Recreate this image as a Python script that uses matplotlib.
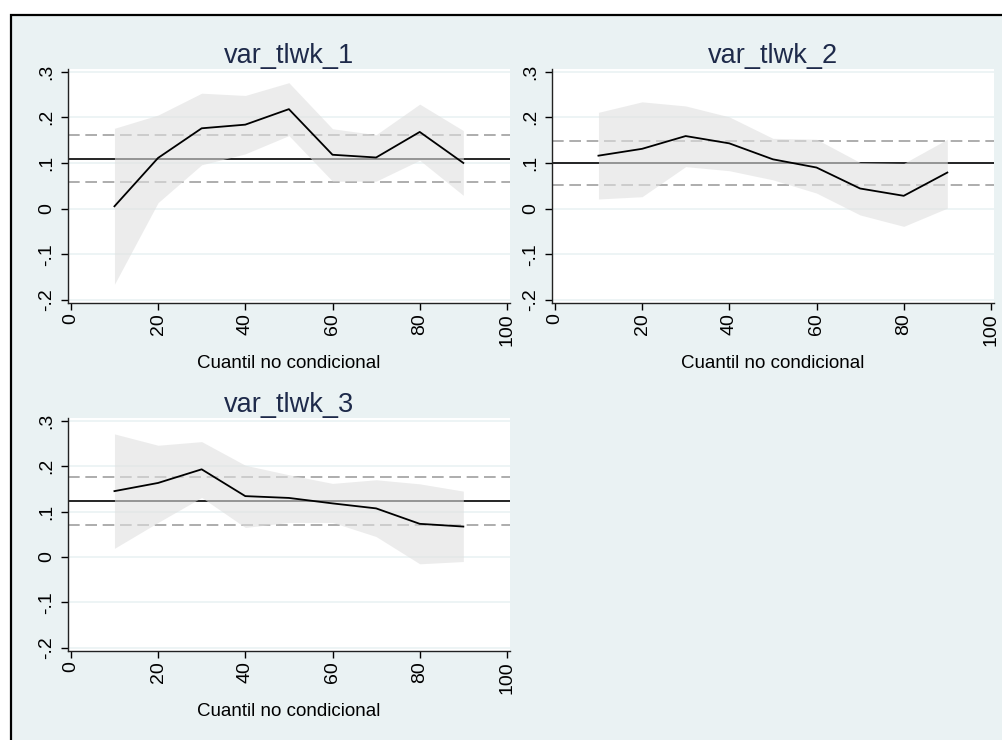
import numpy as np
import matplotlib
matplotlib.use("Agg")
import matplotlib.pyplot as plt
from matplotlib.patches import Rectangle

plt.rcParams['font.family'] = ['Liberation Sans', 'DejaVu Sans']

# cuantiles
quantiles = [10, 20, 30, 40, 50, 60, 70, 80, 90]

# var_tlwk_1
est_1 = [0.005, 0.111, 0.176, 0.184, 0.218, 0.118, 0.112, 0.168, 0.100]
hi_1 = [0.176, 0.205, 0.253, 0.248, 0.276, 0.175, 0.162, 0.229, 0.171]
lo_1 = [-0.166, 0.013, 0.096, 0.120, 0.160, 0.060, 0.060, 0.106, 0.029]
ols_1 = [0.109, 0.058, 0.161]  # coef, ci low, ci high

# var_tlwk_2
est_2 = [0.116, 0.131, 0.159, 0.143, 0.108, 0.090, 0.044, 0.028, 0.079]
hi_2 = [0.211, 0.234, 0.225, 0.201, 0.154, 0.152, 0.101, 0.099, 0.152]
lo_2 = [0.021, 0.026, 0.092, 0.083, 0.063, 0.034, -0.014, -0.039, 0.001]
ols_2 = [0.100, 0.051, 0.148]

# var_tlwk_3
est_3 = [0.145, 0.163, 0.193, 0.134, 0.130, 0.118, 0.107, 0.073, 0.067]
hi_3 = [0.271, 0.246, 0.254, 0.202, 0.181, 0.162, 0.170, 0.161, 0.145]
lo_3 = [0.019, 0.076, 0.131, 0.065, 0.076, 0.076, 0.045, -0.015, -0.010]
ols_3 = [0.123, 0.0705, 0.175]

titles = ['var_tlwk_1', 'var_tlwk_2', 'var_tlwk_3']
yticks = [-0.2, -0.1, 0, 0.1, 0.2, 0.3]
ytick_labels = ['-.2', '-.1', '0', '.1', '.2', '.3']
xticks = [0, 20, 40, 60, 80, 100]

W, H = 1002, 740
bg = '#eaf2f3'
fig = plt.figure(figsize=(W / 100, H / 100), dpi=100, facecolor='white')

# fondo del grafico con marco negro
fig.add_artist(Rectangle((11 / W, -0.05), 1.0, 1 - 15 / H + 0.05,
                         transform=fig.transFigure, facecolor=bg,
                         edgecolor='black', lw=1.6, zorder=-1))

# (left, top, right, bottom) en pixeles
boxes = [(68, 69, 510, 303), (552, 69, 994, 303), (68, 418, 510, 651)]
xlab_y = [363, 363, 712]
data = [(est_1, hi_1, lo_1, ols_1), (est_2, hi_2, lo_2, ols_2),
        (est_3, hi_3, lo_3, ols_3)]

for i, (l, t, r, b) in enumerate(boxes):
    ax = fig.add_axes([l / W, 1 - b / H, (r - l) / W, (b - t) / H])
    est, hi, lo, ols = data[i]
    ax.set_facecolor('white')
    for yv in yticks:
        ax.axhline(yv, color=bg, lw=1.2, zorder=1)
    ax.axhline(ols[0], color='black', lw=1.2, zorder=2)
    ax.axhline(ols[1], color='#a0a0a0', lw=1.2, dashes=(7, 3.4), zorder=2)
    ax.axhline(ols[2], color='#a0a0a0', lw=1.2, dashes=(7, 3.4), zorder=2)
    ax.fill_between(quantiles, lo, hi, color='#e0e0e0', alpha=0.6, lw=0, zorder=3)
    ax.plot(quantiles, est, color='black', lw=1.3, zorder=4)

    ax.set_xlim(-0.65, 100.7)
    ax.set_ylim(-0.207, 0.306)
    ax.set_yticks(yticks)
    ax.set_yticklabels(ytick_labels, rotation=90, va='center', fontsize=14)
    ax.set_xticks(xticks)
    ax.set_xticklabels([str(x) for x in xticks], rotation=90, fontsize=14)
    ax.tick_params(direction='out', length=5, width=1, colors='black', pad=4)
    ax.tick_params(axis='x', pad=2.5)
    for s in ['top', 'right']:
        ax.spines[s].set_visible(False)
    for s in ['left', 'bottom']:
        ax.spines[s].set_linewidth(1.0)
        ax.spines[s].set_color('#222222')
    ax.set_title(titles[i], fontsize=19.5, color='#1e2a4a', pad=4)
    fig.text((l + r) / 2 / W, 1 - xlab_y[i] / H, 'Cuantil no condicional',
             ha='center', va='center', fontsize=13.5, color='black')

fig.savefig('out.png', dpi=100, facecolor='white')
